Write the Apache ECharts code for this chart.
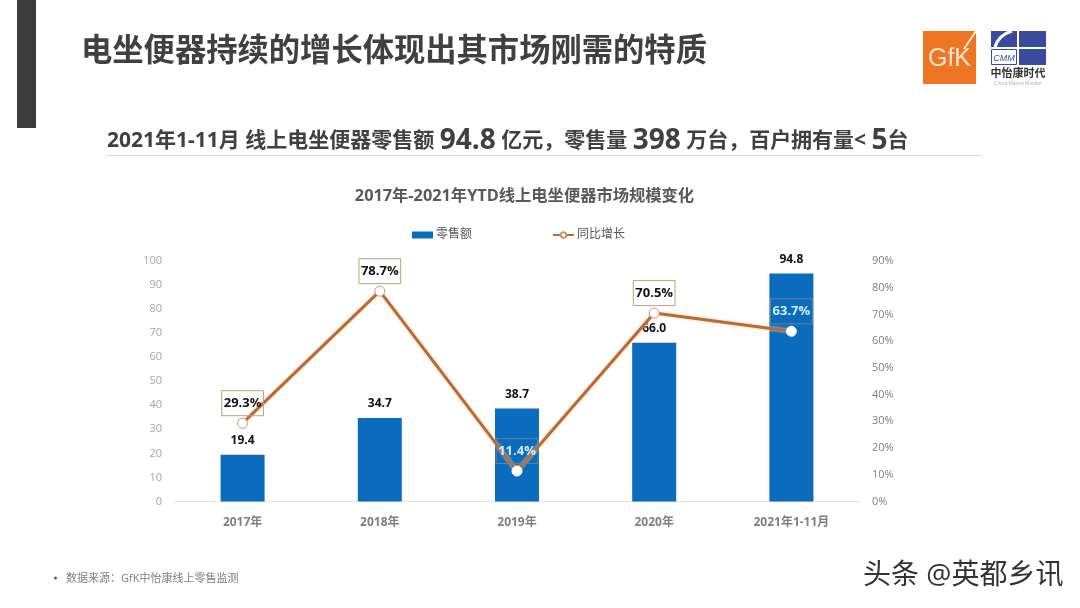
<!DOCTYPE html>
<html>
<head>
<meta charset="utf-8">
<script src="https://cdn.jsdelivr.net/npm/echarts@6/dist/echarts.min.js"></script>
<style>
html, body { margin: 0; padding: 0; background: #fff; }
#chart { width: 1080px; height: 608px; }
</style>
</head>
<body>
<div id="chart"></div>
<script>
var categories = ["2017年", "2018年", "2019年", "2020年", "2021年1-11月"];
var salesValues = [19.4, 34.7, 38.7, 66.0, 94.8];
var growthValues = [29.3, 78.7, 11.4, 70.5, 63.7];
var legendNames = ["零售额", "同比增长"];

var fontCn = '"Open Sans", "Noto Sans CJK SC", sans-serif';
var chart = echarts.init(document.getElementById("chart"), null, { renderer: "canvas" });

// points that sit on top of a bar get the light label
var onBar = [false, false, true, false, true];

var growthData = growthValues.map(function (v, i) {
  return {
    value: v,
    itemStyle: onBar[i] ? { borderColor: "#fff" } : {},
    label: onBar[i] ? { color: "#d2f1ff", borderColor: "#6f7f8e" } : {}
  };
});

chart.setOption({
  animation: false,
  textStyle: { fontFamily: fontCn },
  title: {
    text: "2017年-2021年YTD线上电坐便器市场规模变化",
    left: 519.5,
    top: 183,
    textAlign: "center",
    textStyle: { fontSize: 16.3, fontWeight: "bold", color: "#595959", fontFamily: fontCn }
  },
  legend: {
    data: [
      { name: legendNames[0], icon: "rect" },
      { name: legendNames[1] }
    ],
    left: 407,
    top: 224,
    itemWidth: 21,
    itemHeight: 7,
    itemGap: 80,
    textStyle: { fontSize: 12, color: "#595959", padding: [4, 0, 0, -2] }
  },
  grid: { left: 174, right: 220, top: 261, bottom: 106.5 },
  xAxis: {
    type: "category",
    data: categories,
    axisTick: { show: false },
    axisLine: { lineStyle: { color: "#e6e6e6" } },
    axisLabel: { fontSize: 12, fontWeight: "bold", color: "#7f7f7f", margin: 15 }
  },
  yAxis: [
    {
      type: "value",
      min: 0,
      max: 100,
      interval: 10,
      splitLine: { show: false },
      axisLabel: { fontSize: 11, color: "#a6a6a6", margin: 12, padding: [2, 0, 0, 0] }
    },
    {
      type: "value",
      min: 0,
      max: 90,
      interval: 10,
      splitLine: { show: false },
      axisLabel: { fontSize: 11, color: "#808080", formatter: "{value}%", margin: 12, padding: [2, 0, 0, 0] }
    }
  ],
  series: [
    {
      name: legendNames[0],
      type: "bar",
      data: salesValues,
      barWidth: 44,
      itemStyle: { color: "#0b6bbd" },
      label: {
        show: true,
        position: "top",
        distance: 8,
        fontSize: 12,
        fontWeight: "bold",
        color: "#111",
        formatter: function (p) { return p.value.toFixed(1); }
      }
    },
    {
      name: legendNames[1],
      type: "line",
      yAxisIndex: 1,
      data: growthData,
      symbol: "circle",
      symbolSize: 10,
      showAllSymbol: true,
      z: 5,
      lineStyle: { color: "#bd6a32", width: 3, shadowColor: "#f9d3ad", shadowBlur: 3 },
      itemStyle: { color: "#fff", borderColor: "#c49a70", borderWidth: 1 },
      label: {
        show: true,
        position: "top",
        distance: 2,
        fontSize: 13,
        fontWeight: "bold",
        color: "#111",
        lineHeight: 13,
        borderColor: "#b9a27f",
        borderWidth: 1,
        padding: [6, 2, 6, 2],
        formatter: "{c}%"
      }
    }
  ],
  graphic: [
    { type: "rect", shape: { x: 17, y: 0, width: 19, height: 128 }, style: { fill: "#3c3c3c" } },
    {
      type: "text", x: 81, y: 52,
      style: { text: "电坐便器持续的增长体现出其市场刚需的特质", fill: "#404040", font: "bold 31.3px " + fontCn, textVerticalAlign: "middle" }
    },
    {
      type: "text", x: 107, y: 141,
      style: {
        text: "{a|2021年1-11月 线上电坐便器零售额 }{b|94.8}{a| 亿元，零售量 }{b|398}{a| 万台，百户拥有量< }{b|5}{a|台}",
        rich: {
          a: { font: "bold 21px " + fontCn, fill: "#404040" },
          b: { font: "bold 28px " + fontCn, fill: "#404040" }
        },
        textVerticalAlign: "middle"
      }
    },
    { type: "line", shape: { x1: 107, y1: 155.5, x2: 981, y2: 155.5 }, style: { stroke: "#d9d9d9", lineWidth: 1 } },
    // GfK logo
    { type: "rect", shape: { x: 923, y: 31, width: 53, height: 53 }, style: { fill: "#ee7623" } },
    {
      type: "text", x: 949.5, y: 59,
      style: { text: "GfK", fill: "#f8e3d0", font: "25px 'Liberation Sans'", textAlign: "center", textVerticalAlign: "middle" }
    },
    { type: "line", shape: { x1: 976, y1: 31, x2: 964, y2: 49 }, style: { stroke: "#fff", lineWidth: 1.5 } },
    // CMM logo
    { type: "rect", shape: { x: 991, y: 31, width: 26, height: 16 }, style: { fill: "#3b4a9c" } },
    { type: "rect", shape: { x: 1019, y: 31, width: 27, height: 16 }, style: { fill: "#3b4a9c" } },
    { type: "rect", shape: { x: 1019, y: 49, width: 27, height: 16 }, style: { fill: "#3b4a9c" } },
    {
      type: "bezierCurve",
      shape: { x1: 1012, y1: 31, cpx1: 1002, cpy1: 34, cpx2: 997, cpy2: 40, x2: 995, y2: 47 },
      style: { stroke: "#fff", lineWidth: 3, fill: "none" }
    },
    { type: "rect", shape: { x: 991.5, y: 49.5, width: 25, height: 15 }, style: { fill: "#fff", stroke: "#3b4a9c", lineWidth: 1 } },
    {
      type: "text", x: 1004, y: 58,
      style: { text: "CMM", fill: "#3b4a9c", font: "italic 9px 'Liberation Sans'", textAlign: "center", textVerticalAlign: "middle" }
    },
    {
      type: "text", x: 1018, y: 74,
      style: { text: "中怡康时代", fill: "#333", font: "bold 11px " + fontCn, textAlign: "center", textVerticalAlign: "middle" }
    },
    {
      type: "text", x: 1018, y: 84,
      style: { text: "China Market Monitor", fill: "#b5b5b5", font: "5px 'Liberation Sans'", textAlign: "center", textVerticalAlign: "middle" }
    },
    // footer
    { type: "circle", shape: { cx: 55.5, cy: 578, r: 1.5 }, style: { fill: "#595959" } },
    {
      type: "text", x: 66, y: 579,
      style: { text: "数据来源：GfK中怡康线上零售监测", fill: "#7f7f7f", font: "11px " + fontCn, textVerticalAlign: "middle" }
    },
    {
      type: "text", x: 863, y: 576,
      style: { text: "头条 @英都乡讯", fill: "#333", font: "28px " + fontCn, textVerticalAlign: "middle" }
    }
  ]
});
</script>
</body>
</html>
